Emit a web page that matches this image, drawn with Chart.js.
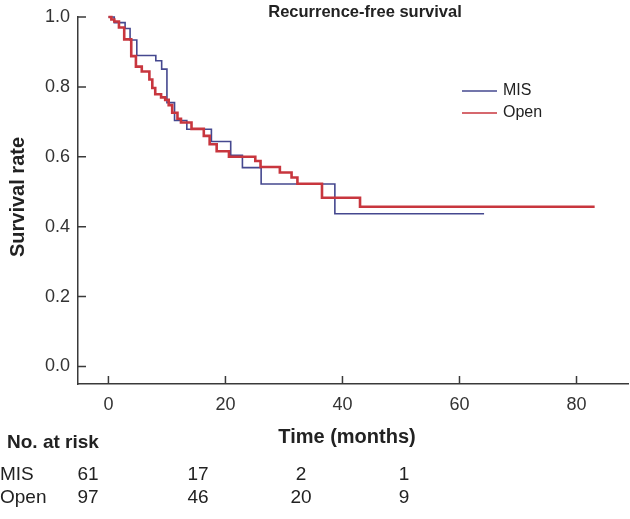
<!DOCTYPE html>
<html>
<head>
<meta charset="utf-8">
<script src="https://cdn.jsdelivr.net/npm/chart.js@4.4.1/dist/chart.umd.min.js"></script>
<style>
  html, body { margin: 0; padding: 0; background: #fff; }
</style>
</head>
<body>
<canvas id="km" width="630" height="519"></canvas>
<script>
// Kaplan-Meier steps: time of event (months) and survival after it
const misTime = [0, 1.0, 2.85, 3.7, 4.85, 8.1, 9.1, 10.0, 11.3, 13.4, 17.6, 20.9, 22.9, 26.1, 38.7, 64.2];
const misSurv = [1.0, 0.984, 0.967, 0.934, 0.890, 0.875, 0.851, 0.755, 0.704, 0.679, 0.644, 0.604, 0.569, 0.522, 0.437, 0.437];

const openTime = [0, 0.5, 1.0, 1.8, 2.7, 3.9, 4.7, 5.7, 7.0, 7.5, 8.0, 9.0, 9.7, 10.3, 10.9, 11.8, 12.4, 14.2, 16.3, 17.3, 18.5, 20.6, 25.1, 26.0, 29.3, 31.3, 32.3, 36.5, 43.0, 83.1];
const openSurv = [1.0, 0.993, 0.987, 0.970, 0.936, 0.888, 0.858, 0.844, 0.821, 0.797, 0.779, 0.770, 0.763, 0.748, 0.726, 0.709, 0.698, 0.680, 0.660, 0.636, 0.616, 0.600, 0.588, 0.571, 0.555, 0.541, 0.523, 0.483, 0.457, 0.457];

const xTicks = [0, 20, 40, 60, 80];
const yTicks = [0, 0.2, 0.4, 0.6, 0.8, 1.0];

const riskGroups = ['MIS', 'Open'];
const riskMIS = [61, 17, 2, 1];
const riskOpen = [97, 46, 20, 9];

const FONT = "'Liberation Sans', Arial, sans-serif";
const blue = '#45488f';
const red = '#c8363e';
const axisColor = '#3a3a3a';
const textColor = '#222';

function toPoints(ts, vs) {
  return ts.map((t, i) => ({ x: t, y: vs[i] }));
}

const extras = {
  id: 'extras',
  afterDraw(chart) {
    const ctx = chart.ctx;
    const xs = chart.scales.x, ys = chart.scales.y;
    const area = chart.chartArea;
    ctx.save();

    // inward tick marks
    ctx.strokeStyle = axisColor;
    ctx.lineWidth = 1.5;
    ctx.beginPath();
    xTicks.forEach(v => {
      const px = xs.getPixelForValue(v);
      ctx.moveTo(px, area.bottom);
      ctx.lineTo(px, area.bottom - 8);
    });
    yTicks.forEach(v => {
      const py = ys.getPixelForValue(v);
      ctx.moveTo(area.left, py);
      ctx.lineTo(area.left + 8, py);
    });
    ctx.stroke();

    ctx.fillStyle = textColor;
    ctx.textBaseline = 'middle';

    // title
    ctx.font = 'bold 16.5px ' + FONT;
    ctx.textAlign = 'center';
    ctx.fillText('Recurrence-free survival', 365, 12);

    // legend
    const ds = chart.data.datasets;
    ctx.font = '16px ' + FONT;
    ctx.textAlign = 'left';
    [0, 1].forEach((i, k) => {
      const y = 91 + k * 22;
      ctx.strokeStyle = ds[i].borderColor;
      ctx.lineWidth = 1.5;
      ctx.beginPath();
      ctx.moveTo(462, y);
      ctx.lineTo(497, y);
      ctx.stroke();
      ctx.fillText(ds[i].label, 503, y);
    });

    // axis titles
    ctx.font = 'bold 20px ' + FONT;
    ctx.textAlign = 'center';
    ctx.fillText('Time (months)', 347, 437);
    ctx.save();
    ctx.translate(18, 197);
    ctx.rotate(-Math.PI / 2);
    ctx.fillText('Survival rate', 0, 0);
    ctx.restore();

    // number at risk table
    ctx.font = 'bold 19px ' + FONT;
    ctx.textAlign = 'left';
    ctx.fillText('No. at risk', 7, 443);
    ctx.font = '19px ' + FONT;
    const cols = [88, 198, 301, 404];
    [riskMIS, riskOpen].forEach((row, r) => {
      const y = 475 + r * 23;
      ctx.textAlign = 'left';
      ctx.fillText(riskGroups[r], 0, y);
      ctx.textAlign = 'center';
      row.forEach((n, c) => ctx.fillText(String(n), cols[c], y));
    });

    ctx.restore();
  }
};

new Chart(document.getElementById('km'), {
  type: 'line',
  data: {
    datasets: [
      { label: 'MIS', data: toPoints(misTime, misSurv), borderColor: blue, borderWidth: 1.6,
        stepped: true, pointRadius: 0, clip: false, order: 1 },
      { label: 'Open', data: toPoints(openTime, openSurv), borderColor: red, borderWidth: 2.6,
        stepped: true, pointRadius: 0, clip: false, order: 0 }
    ]
  },
  options: {
    responsive: false,
    animation: false,
    devicePixelRatio: 1,
    layout: { padding: { top: 9, right: 2, left: 0, bottom: 0 } },
    plugins: { legend: { display: false }, tooltip: { enabled: false } },
    scales: {
      x: {
        type: 'linear', min: -5.2, max: 88.8,
        afterBuildTicks: s => { s.ticks = xTicks.map(v => ({ value: v })); },
        afterFit: s => { s.height = 135; },
        grid: { display: false, drawTicks: false },
        border: { display: true, color: axisColor, width: 1.5 },
        ticks: { color: '#333', font: { family: FONT, size: 18, lineHeight: 1 }, padding: 12,
                 maxRotation: 0, autoSkip: false, callback: v => String(v) }
      },
      y: {
        type: 'linear', min: -0.05, max: 1.0,
        afterBuildTicks: s => { s.ticks = yTicks.map(v => ({ value: v })); },
        afterFit: s => { s.width = 78; },
        grid: { display: false, drawTicks: false },
        border: { display: true, color: axisColor, width: 1.5 },
        ticks: { color: '#333', font: { family: FONT, size: 18, lineHeight: 1 }, padding: 8,
                 autoSkip: false, callback: v => v.toFixed(1) }
      }
    }
  },
  plugins: [extras]
});
</script>
</body>
</html>
